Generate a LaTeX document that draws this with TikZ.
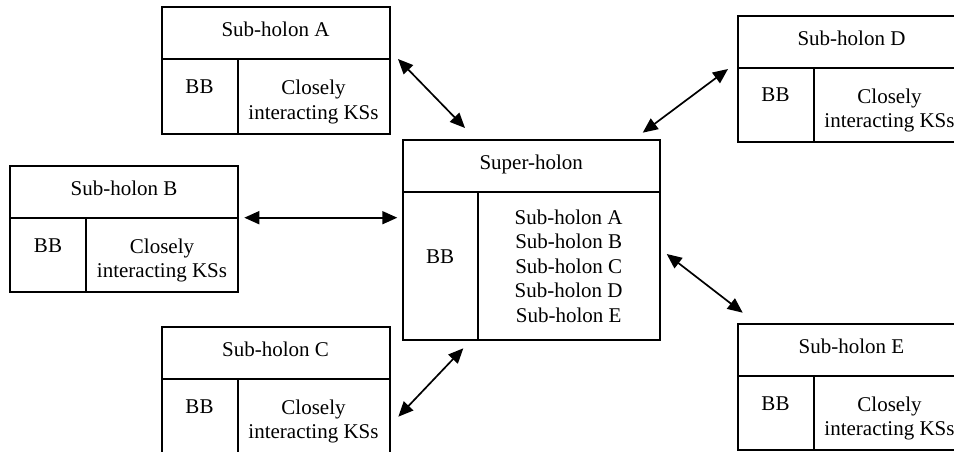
\documentclass[tikz,border=0pt]{standalone}
\usepackage{fontspec}
\setmainfont{Liberation Serif}
\usetikzlibrary{arrows.meta,calc}

% A sub-holon: title row above a BB cell and a knowledge-source cell
\newcommand\holonbox[4]{%
  \node[cell, txt, minimum width=228pt, minimum height=52pt, text height=14pt, text depth=7pt] (#1) at (#2,#3) {#4};
  \node[cell, minimum width=76pt, minimum height=74pt] (#1-bb) at (#1.south west) {};
  \node[cell, minimum width=152pt, minimum height=74pt] (#1-ks) at (#1-bb.north east) {};
  \node[txt] (#1-kst) at ($(#1-ks.center)+(0,5.5)$) {Closely\\interacting KSs};
  \node[txt, anchor=base] (#1-bbt) at ($(#1-bb.north)+(0,34)$) {BB};
}

\begin{document}
\begin{tikzpicture}[x=1pt, y=-1pt,
  cell/.style={draw, line width=2pt, inner sep=0pt, outer sep=0pt, anchor=north west},
  txt/.style={font=\fontsize{21}{24.5}\selectfont, align=center, inner sep=0pt},
  link/.style={{Triangle[length=15pt,width=13pt]}-{Triangle[length=15pt,width=13pt]}, line width=1.7pt}]
\useasboundingbox (0,0) rectangle (954,452);

% sub-holons
\holonbox{A}{161.5}{7.5}{Sub-holon A}
\holonbox{B}{10}{166}{Sub-holon B}
\holonbox{C}{161.5}{327}{Sub-holon C}
\holonbox{D}{737.5}{16}{Sub-holon D}
\holonbox{E}{737.5}{324}{Sub-holon E}

% super-holon
\node[cell, txt, minimum width=257pt, minimum height=52pt, text height=14pt, text depth=7pt] (S) at (402.7,140) {Super-holon};
\node[cell, minimum width=75pt, minimum height=148pt] (S-bb) at (S.south west) {};
\node[cell, txt, minimum width=182pt, minimum height=148pt] (S-ks) at (S-bb.north east)
  {Sub-holon A\\Sub-holon B\\Sub-holon C\\Sub-holon D\\Sub-holon E};
\node[txt, anchor=base] (S-bbt) at ($(S-bb.north)+(0,71)$) {BB};

% connector end points
\coordinate (a1) at (398,59);
\coordinate (a2) at (465,128);
\coordinate (b1) at (244.3,217.7);
\coordinate (b2) at (397.3,217.7);
\coordinate (c1) at (398.3,416.7);
\coordinate (c2) at (463.3,348.3);
\coordinate (d1) at (728,69);
\coordinate (d2) at (642.7,132.7);
\coordinate (e1) at (666.7,254);
\coordinate (e2) at (742.7,312.7);

\draw[link] (a1) -- (a2);
\draw[link] (b1) -- (b2);
\draw[link] (c1) -- (c2);
\draw[link] (d1) -- (d2);
\draw[link] (e1) -- (e2);
\end{tikzpicture}
\end{document}
